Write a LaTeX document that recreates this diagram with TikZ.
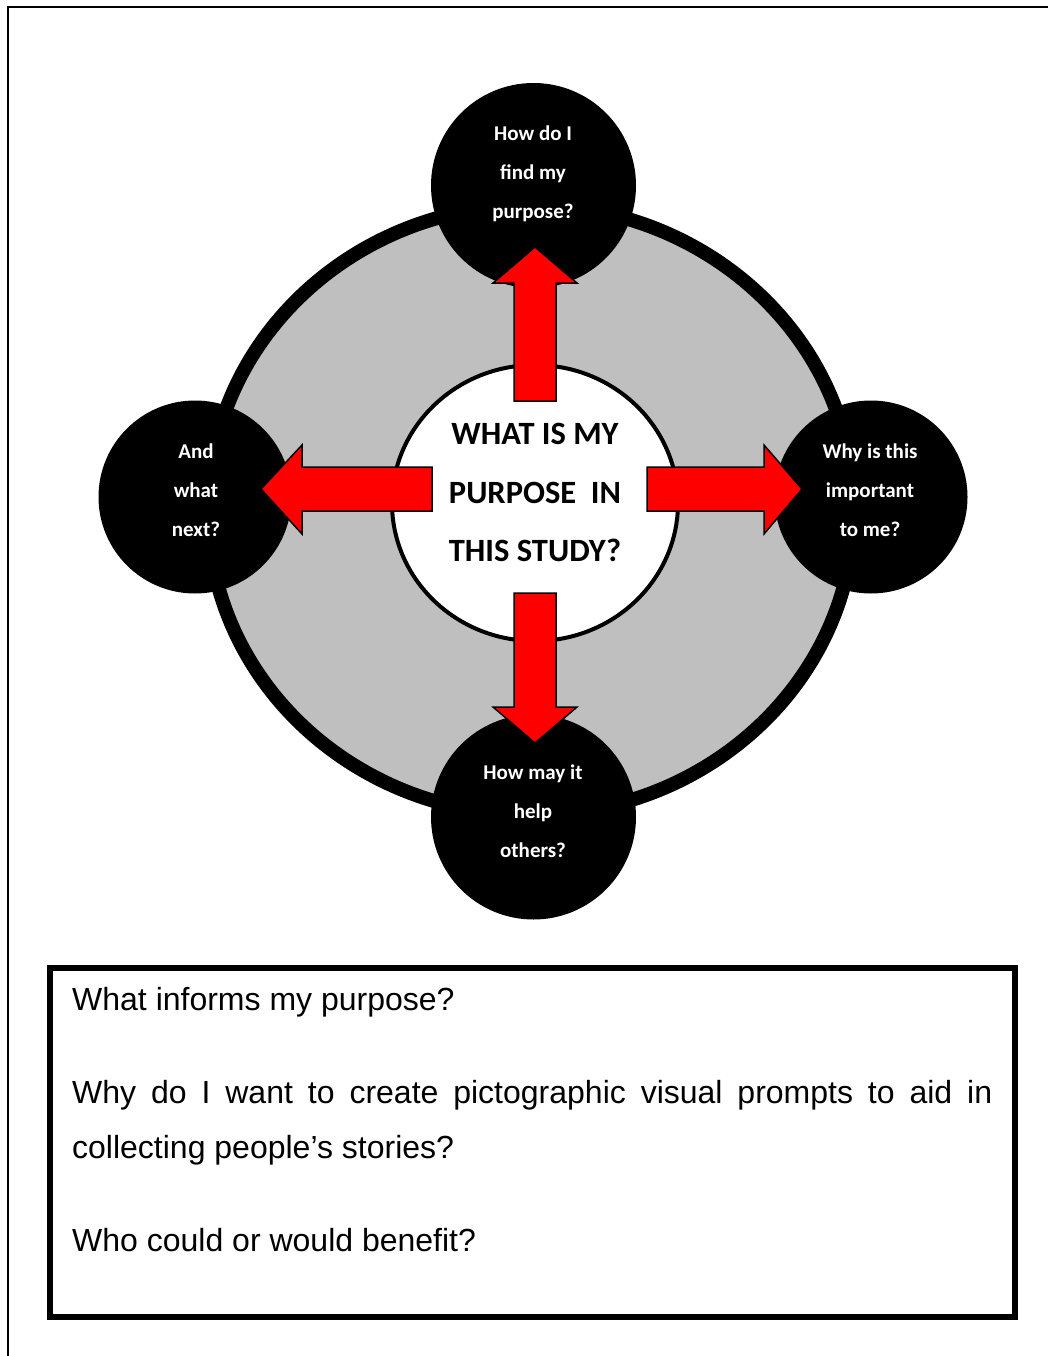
\documentclass[tikz,border=0pt]{standalone}
\usepackage{fontspec}
\setmainfont{Liberation Sans}
\newfontfamily\calibri{Carlito}
\usetikzlibrary{shapes.geometric}
\definecolor{ringgray}{HTML}{BFBFBF}
\definecolor{arrowred}{HTML}{FF0000}
\begin{document}
\begin{tikzpicture}[x=1pt,y=-1pt,
  ringshape/.style={ellipse,draw=black,line width=14pt,fill=ringgray,
    minimum width=646pt,minimum height=610pt,inner sep=0pt},
  hubshape/.style={ellipse,draw=black,line width=4pt,fill=white,
    minimum width=286pt,minimum height=276pt,inner sep=0pt},
  bigdisc/.style={circle,fill=black,minimum size=205pt,inner sep=0pt},
  smalldisc/.style={circle,fill=black,minimum size=193pt,inner sep=0pt},
  question/.style={text=white,align=center,inner sep=0pt,
    font=\calibri\bfseries\fontsize{21}{39}\selectfont},
  hubline/.style={anchor=base,inner sep=0pt,
    font=\calibri\bfseries\fontsize{32.5}{38}\selectfont},
  blockarrow/.style={fill=arrowred,draw=black,line width=1.5pt,line join=miter},
  notebox/.style={draw=black,line width=6pt},
  noteline/.style={anchor=base west,inner sep=0pt,
    font=\fontsize{32}{38}\selectfont},
  frame/.style={draw=black,line width=2pt}]
\useasboundingbox (0,0) rectangle (1048,1356);

% page frame (open at the right and bottom)
\draw[frame] (8,1357) -- (8,7) -- (1049,7);

% grey ring and white hub
\node[ringshape] (ring) at (531,510) {};
\node[hubshape] (hub) at (535,503) {};

% question discs
\node[bigdisc] (top) at (533.5,185.5) {};
\node[bigdisc] (bottom) at (533.5,817) {};
\node[smalldisc] (left) at (195,497) {};
\node[smalldisc] (right) at (871,497) {};

% block arrows from the hub out to each disc
\draw[blockarrow] (514,401) -- (514,283) -- (493,283) -- (535,247)
  -- (577,283) -- (556,283) -- (556,401) -- cycle;
\draw[blockarrow] (514,593) -- (514,707) -- (493,707) -- (535,743)
  -- (577,707) -- (556,707) -- (556,593) -- cycle;
\draw[blockarrow] (432,467) -- (302,467) -- (302,445) -- (261,489)
  -- (302,534) -- (302,511) -- (432,511) -- cycle;
\draw[blockarrow] (647,467) -- (764,467) -- (764,445) -- (802,489)
  -- (764,534) -- (764,511) -- (647,511) -- cycle;

% disc texts
\node[question] (qtop) at (533,174) {How do I\\find my\\purpose?};
\node[question] (qleft) at (196,490) {And\\what\\next?};
\node[question] (qright) at (870,490) {Why is this\\important\\to me?};
\node[question] (qbottom) at (533,811.5) {How may it\\help\\others?};

% hub text
\node[hubline] (h1) at (535,444) {WHAT IS MY};
\node[hubline] (h2) at (535,503) {PURPOSE\ \ IN};
\node[hubline] (h3) at (535,561) {THIS STUDY?};

% notes box
\draw[notebox] (50,968) rectangle (1015,1317);
\node[noteline] (n1) at (72,1010) {What informs my purpose?};
\node[noteline] (n2) at (72,1103.5)
  {\makebox[920pt][s]{Why do I want to create pictographic visual prompts to aid in}};
\node[noteline] (n3) at (72,1158.5) {collecting people’s stories?};
\node[noteline] (n4) at (72,1251.5) {Who could or would benefit?};
\end{tikzpicture}
\end{document}
